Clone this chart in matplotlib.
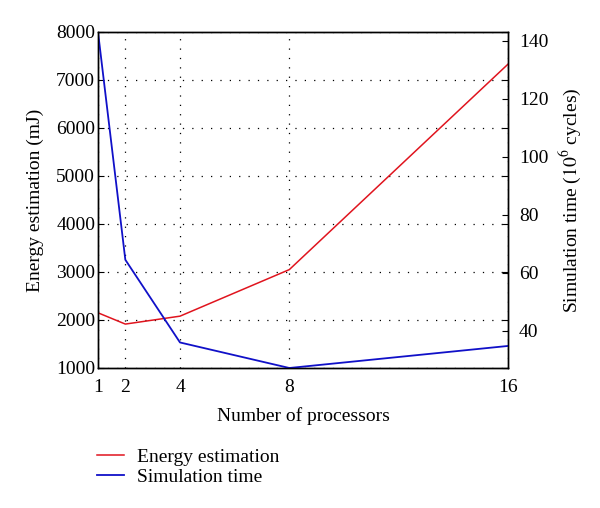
import matplotlib
matplotlib.use("Agg")
import matplotlib.pyplot as plt
from matplotlib.lines import Line2D

processors = [1, 2, 4, 8, 16]
energy_mj = [2150, 1915, 2080, 3050, 7330]
sim_time = [143, 64.5, 36.0, 27.2, 34.8]
x_ticks = [1, 2, 4, 8, 16]
left_ticks = [1000, 2000, 3000, 4000, 5000, 6000, 7000, 8000]
right_ticks = [40, 60, 80, 100, 120, 140]

plt.rcParams['font.family'] = ['Liberation Serif', 'DejaVu Serif']
plt.rcParams['mathtext.fontset'] = 'stix'

FS = 14

fig = plt.figure(figsize=(6.0, 5.08), dpi=100)
ax = fig.add_axes([98/600, 1-368/508, 410/600, 336/508])
ax2 = ax.twinx()

ax.plot(processors, energy_mj, color='#e0141e', lw=1.1)
ax2.plot(processors, sim_time, color='#1010c8', lw=1.3)

ax.set_xlim(1, 16)
ax.set_ylim(1000, 8000)
ax2.set_ylim(27.2, 143)
ax.set_xticks(x_ticks)
ax.set_yticks(left_ticks)
ax2.set_yticks(right_ticks)

ax.grid(True, color='black', linestyle=(0, (1, 6.5)), linewidth=0.9)
ax.tick_params(axis='y', direction='in', length=4, labelsize=FS, pad=2, right=True)
ax.tick_params(axis='x', direction='in', length=0, labelsize=FS, pad=8)
ax2.tick_params(axis='y', direction='in', length=4, labelsize=FS, pad=8)
for a in (ax, ax2):
    for s in a.spines.values():
        s.set_linewidth(1.0)

ax.set_xlabel('Number of processors', fontsize=FS, labelpad=8)
ax.set_ylabel('Energy estimation (mJ)', fontsize=FS, labelpad=9)
ax2.set_ylabel('Simulation time ($10^6$ cycles)', fontsize=FS, labelpad=6)

handles = [Line2D([], [], color='#e0141e', lw=1.1),
           Line2D([], [], color='#1010c8', lw=1.3)]
fig.legend(handles, ['Energy estimation', 'Simulation time'],
           loc='upper left', bbox_to_anchor=(97/600, 1-448/508),
           frameon=False, fontsize=FS, handlelength=1.4,
           handletextpad=0.65, labelspacing=0.15,
           borderpad=0, borderaxespad=0)

fig.savefig('out.png', dpi=100)
